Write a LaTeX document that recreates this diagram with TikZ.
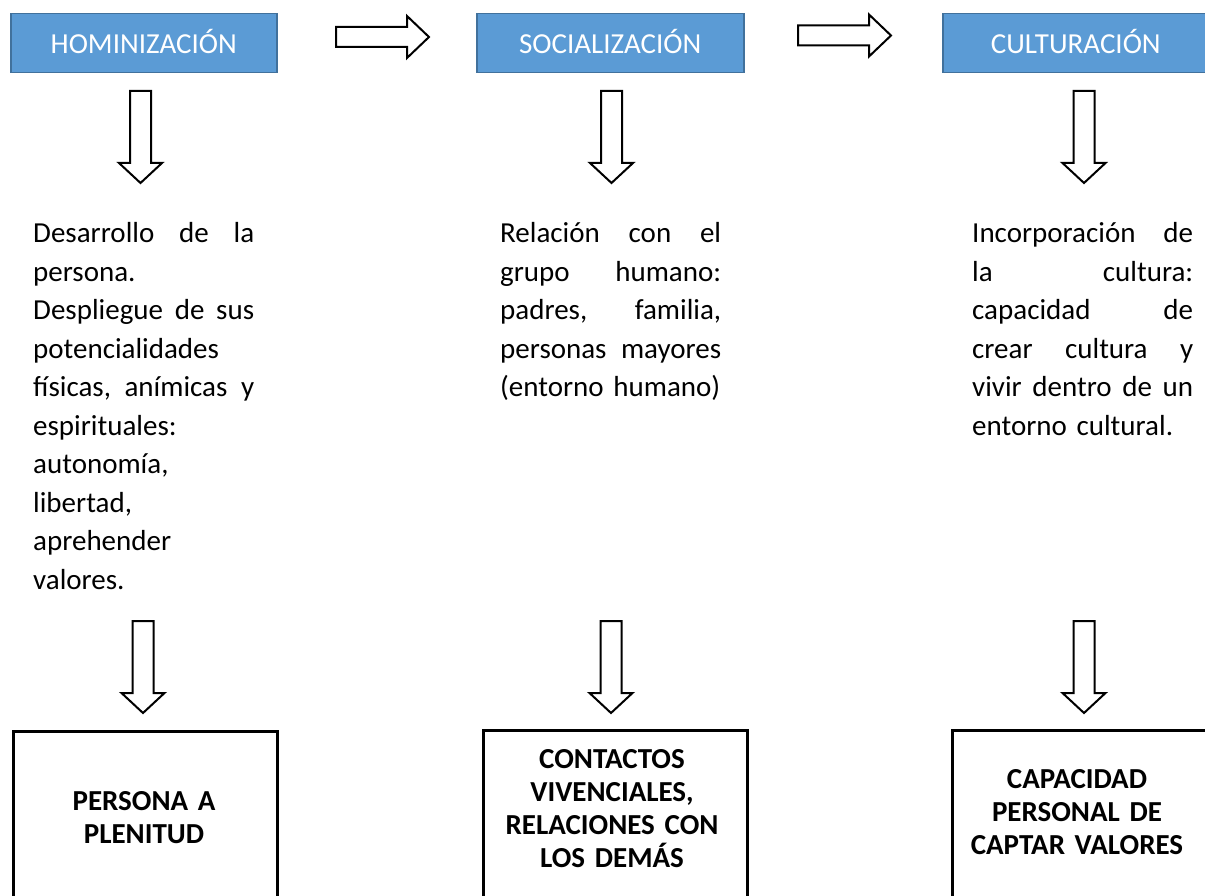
\documentclass[tikz,border=0pt]{standalone}
\usepackage{fontspec}
\setmainfont{Carlito}
\definecolor{hdrfill}{HTML}{5B9BD5}
\definecolor{hdrdraw}{HTML}{41719C}
\newcommand{\jl}[1]{\makebox[221pt][l]{#1}}
\tikzset{
 hdr/.style={draw=hdrdraw, line width=1.5pt, fill=hdrfill, text=white, minimum width=266pt, minimum height=59pt, inner sep=0pt, anchor=north west, text height=20pt, text depth=0pt, font=\fontsize{29}{35}\selectfont},
 blockarrow/.style={draw=black, line width=2pt, fill=white, line join=miter},
 resbox/.style={draw=black, line width=2.5pt, minimum width=264pt, minimum height=180pt, anchor=north west, inner sep=0pt},
 restext/.style={text width=264pt, align=center, inner sep=0pt, anchor=base, font=\fontsize{29}{33.3}\selectfont\bfseries},
 desc/.style={text width=221pt, align=left, inner sep=0pt, anchor=base west, font=\fontsize{29}{38.5}\selectfont},
 downarr/.pic={\draw[blockarrow] (-10.5,0) -- (10.5,0) -- (10.5,72) -- (21.5,72) -- (0,92) -- (-21.5,72) -- (-10.5,72) -- cycle;},
 rightarr/.pic={\draw[blockarrow] (0,-10) -- (71,-10) -- (71,-21) -- (93,0) -- (71,21) -- (71,10) -- (0,10) -- cycle;}
}
\begin{document}
\begin{tikzpicture}[x=1pt,y=-1pt]
\useasboundingbox (0,0) rectangle (1205,896);
% headers
\node[hdr] (h1) at (10,13) {HOMINIZACIÓN};
\node[hdr, minimum width=267pt] (h2) at (476,13) {SOCIALIZACIÓN};
\node[hdr] (h3) at (942,13) {CULTURACIÓN};
% horizontal block arrows
\pic at (336,37) {rightarr};
\pic at (798,35.5) {rightarr};
% top down arrows
\pic at (140.5,91) {downarr};
\pic at (611.5,91) {downarr};
\pic at (1084,91) {downarr};
% descriptions
\node[desc] (d1) at (33,243) {\jl{Desarrollo\hfill de\hfill la}\\persona.\\\jl{Despliegue\hfill de\hfill sus}\\potencialidades\\\jl{físicas,\hfill anímicas\hfill y}\\espirituales:\\autonomía,\\libertad,\\aprehender\\valores.};
\node[desc] (d2) at (500,243) {\jl{Relación\hfill con\hfill el}\\\jl{grupo\hfill humano:}\\\jl{padres,\hfill familia,}\\\jl{personas\hfill mayores}\\(entorno humano)};
\node[desc] (d3) at (972,243) {\jl{Incorporación\hfill de}\\\jl{la\hfill cultura:}\\\jl{capacidad\hfill de}\\\jl{crear\hfill cultura\hfill y}\\\jl{vivir\hfill dentro\hfill de\hfill un}\\entorno cultural.};
% bottom down arrows
\pic at (143,621) {downarr};
\pic at (611,621) {downarr};
\pic at (1084,621) {downarr};
% result boxes
\node[resbox] (r1) at (12,730) {};
\node[resbox] (r2) at (482,729) {};
\node[resbox, minimum width=262pt] (r3) at (951,729) {};
\node[restext] (t1) at (144,810) {PERSONA A\\PLENITUD};
\node[restext] (t2) at (612,768) {CONTACTOS\\VIVENCIALES,\\RELACIONES CON\\LOS DEMÁS};
\node[restext] (t3) at (1077,788) {CAPACIDAD\\PERSONAL DE\\CAPTAR VALORES};
\end{tikzpicture}
\end{document}
